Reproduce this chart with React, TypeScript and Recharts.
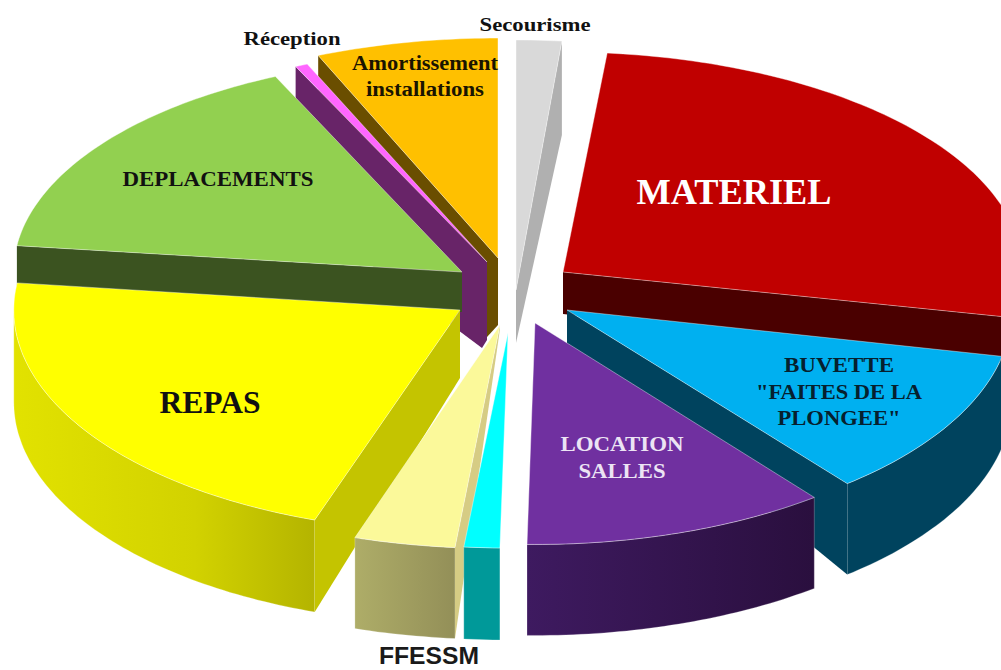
import React from "react";
import { PieChart, Pie } from "recharts";

// left half is listed back to front, going counter-clockwise from the top
const leftNames = ["Amortissement", "Reception", "Deplacements", "Repas", "FFESSM", "Premiers"];
const leftValues = [6.39, 0.44, 16.22, 21.67, 3.75, 1.25];
// right half, clockwise from the top
const rightNames = ["Secourisme", "Materiel", "Buvette", "Location"];
const rightValues = [1.53, 26.8, 11.1, 10.85];

const total = [...leftValues, ...rightValues].reduce((a, b) => a + b, 0);
const leftSpan = (360 * leftValues.reduce((a, b) => a + b, 0)) / total;
const rightSpan = 360 - leftSpan;

const leftData = leftNames.map((name, i) => ({ name, value: leftValues[i] }));
const rightData = rightNames.map((name, i) => ({ name, value: rightValues[i] }));

const TILT = 215 / 460;

// dx/dy: explosion of the slice, sx/sy: perspective scale, t1/t2: perspective nudge of the edges (deg)
const sliceLook: Record<string, any> = {
  Amortissement: { dx: -2, dy: -42, sx: 1, sy: 1.023, depth: 60, apexDepth: 67, tip: [-11, 12], top: "#ffc000", wall: "#6a4e00" },
  Reception: { dx: -13, dy: -38, sx: 1, sy: 1, depth: 142, apexDepth: 78, tip: [-5, 8], top: "#ff66ff", wall: "#682468" },
  Deplacements: { dx: -38, dy: -28, sx: 0.975, sy: 1, depth: 40, apexDepth: 40, top: "#92d050", wall: "#3b5320" },
  Repas: { dx: -40, dy: 10, sx: 0.97, sy: 1.033, depth: 92, apexDepth: 68, top: "#ffff00", wall: "#c4c400", arc: "url(#repasWall)" },
  FFESSM: { dx: 0, dy: 25, sx: 1.02, sy: 1.04, t2: -1, depth: 91, apexDepth: 4, top: "#fbf99a", wall: "#d6cc84", arc: "url(#ffessmWall)" },
  Premiers: { dx: 8, dy: 33, sx: 1, sy: 1, depth: 92, apexDepth: 0, top: "#00ffff", wall: "#009999", arc: "#009999" },
  Secourisme: { dx: 16, dy: -10, sx: 1.04, sy: 1.163, depth: 94, apexDepth: 53, top: "#d9d9d9", wall: "#b0b0b0" },
  Materiel: { dx: 63, dy: -28, sx: 1, sy: 1.023, depth: 46, apexDepth: 42, top: "#c00000", wall: "#4a0000", arc: "#4a0000" },
  Buvette: { dx: 67, dy: 10, sx: 0.967, sy: 1.04, t2: -1, depth: 91, apexDepth: 35, top: "#00b0f0", wall: "#00435e", arc: "#00435e" },
  Location: { dx: 35, dy: 23, sx: 0.985, sy: 1.03, depth: 91, apexDepth: 40, top: "#7030a0", wall: "#3a1a5c", arc: "url(#locationWall)" },
};

const serif = "'Liberation Serif', serif";
const sliceText: Record<string, any> = {
  Materiel: { lines: ["MATERIEL"], widths: [195], x: 734, y: 204, size: 35, color: "#ffffff" },
  Repas: { lines: ["REPAS"], widths: [101], x: 210, y: 413, size: 31, color: "#111111" },
  Deplacements: { lines: ["DEPLACEMENTS"], widths: [191], x: 218, y: 186, size: 20, color: "#111111" },
  Amortissement: { lines: ["Amortissement", "installations"], widths: [146, 118], x: 425, y: 70, size: 20, gap: 26, color: "#1a1400" },
  Reception: { lines: ["Réception"], widths: [97], x: 292, y: 45, size: 19.5, color: "#111111" },
  Secourisme: { lines: ["Secourisme"], widths: [111], x: 535, y: 31, size: 19.5, color: "#111111" },
  Buvette: { lines: ["BUVETTE", "\"FAITES DE LA", "PLONGEE\""], widths: [110, 166, 123], x: 839, y: 372, size: 21, gap: 26.5, color: "#06202e" },
  Location: { lines: ["LOCATION", "SALLES"], widths: [123, 87], x: 622, y: 451, size: 21, gap: 27, color: "#ece4f4" },
  FFESSM: { lines: ["FFESSM"], widths: [100], x: 429, y: 664, size: 23, color: "#1a1a1a", font: "'Liberation Sans', sans-serif" },
};

function SliceShape(props: any) {
  const { cx, cy, outerRadius, startAngle, endAngle } = props;
  const name = props.payload?.name ?? props.name;
  const s = sliceLook[name];
  const ox = cx + s.dx;
  const oy = cy + s.dy;
  const rx = outerRadius * s.sx;
  const ry = outerRadius * TILT * s.sy;

  // clockwise from the top
  const a1 = 90 - Math.max(startAngle, endAngle);
  const a2 = 90 - Math.min(startAngle, endAngle);
  const t1 = a1 + (s.t1 ?? 0);
  const t2 = a2 + (s.t2 ?? 0);
  const norm = (d: number) => ((d % 360) + 360) % 360;

  const rim = (t: number) => {
    const r = (t * Math.PI) / 180;
    return [ox + rx * Math.sin(r), oy - ry * Math.cos(r)];
  };
  const samples = (from: number, to: number) => {
    const pts = [];
    const n = Math.max(2, Math.ceil(Math.abs(to - from)));
    for (let i = 0; i <= n; i++) pts.push(rim(from + ((to - from) * i) / n));
    return pts;
  };
  const toPath = (pts: number[][]) => "M" + pts.map((p) => p[0].toFixed(1) + " " + p[1].toFixed(1)).join("L") + "Z";

  const radialWall = (t: number) => {
    const p = rim(t);
    const pts = [p, [ox, oy], [ox, oy + s.apexDepth]];
    if (s.tip) pts.push([ox + s.tip[0], oy + s.apexDepth + s.tip[1]]);
    pts.push([p[0], p[1] + s.depth]);
    return toPath(pts);
  };

  const n1 = norm(t1);
  const n2 = norm(t2);
  const showFirst = n1 > 184 && n1 < 356;
  const showSecond = n2 > 4 && n2 < 176;

  const from = Math.max(n1, 90);
  const to = Math.min(n1 + (t2 - t1), 270);
  const arcPts = to > from ? samples(from, to) : [];
  const arcWall = arcPts.length
    ? toPath([...arcPts, ...arcPts.slice().reverse().map((p) => [p[0], p[1] + s.depth])])
    : null;

  const edge = "rgba(255,255,255,0.4)";
  return (
    <g>
      {arcWall && <path d={arcWall} fill={s.arc ?? s.wall} stroke={edge} strokeWidth={0.6} />}
      {showFirst && <path d={radialWall(t1)} fill={s.wall} />}
      {showSecond && <path d={radialWall(t2)} fill={s.wall} />}
      <path d={toPath([[ox, oy], ...samples(t1, t2)])} fill={s.top} stroke={edge} strokeWidth={1} />
    </g>
  );
}

function SliceLabel(props: any) {
  const name = props.payload?.name ?? props.name;
  const t = sliceText[name];
  if (!t) return null;
  return (
    <g>
      {t.lines.map((line: string, i: number) => (
        <text
          key={line}
          x={t.x}
          y={t.y + i * (t.gap ?? 0)}
          textAnchor="middle"
          fontFamily={t.font ?? serif}
          fontWeight="bold"
          fontSize={t.size}
          fill={t.color}
          textLength={t.widths[i]}
          lengthAdjust="spacingAndGlyphs"
        >
          {line}
        </text>
      ))}
    </g>
  );
}

export default function App() {
  return (
    <div style={{ width: 1001, height: 670, background: "#ffffff" }}>
      <style>{"html,body{margin:0;padding:0;overflow:hidden}"}</style>
      <PieChart width={1001} height={670} margin={{ top: 0, right: 0, bottom: 0, left: 0 }}>
        <defs>
          <linearGradient id="repasWall" x1="0" y1="0" x2="1" y2="0">
            <stop offset="0" stopColor="#e2e200" />
            <stop offset="0.6" stopColor="#d2d200" />
            <stop offset="1" stopColor="#b4b400" />
          </linearGradient>
          <linearGradient id="ffessmWall" x1="0" y1="0" x2="1" y2="0">
            <stop offset="0" stopColor="#aead68" />
            <stop offset="1" stopColor="#938f58" />
          </linearGradient>
          <linearGradient id="locationWall" x1="0" y1="0" x2="1" y2="0">
            <stop offset="0" stopColor="#3e1a60" />
            <stop offset="1" stopColor="#2a0f3e" />
          </linearGradient>
        </defs>
        <Pie
          data={leftData}
          dataKey="value"
          nameKey="name"
          cx={500}
          cy={300}
          outerRadius={460}
          startAngle={90}
          endAngle={90 + leftSpan}
          shape={SliceShape}
          inactiveShape={SliceShape}
          label={SliceLabel}
          labelLine={false}
          isAnimationActive={false}
        />
        <Pie
          data={rightData}
          dataKey="value"
          nameKey="name"
          cx={500}
          cy={300}
          outerRadius={460}
          startAngle={90}
          endAngle={90 - rightSpan}
          shape={SliceShape}
          inactiveShape={SliceShape}
          label={SliceLabel}
          labelLine={false}
          isAnimationActive={false}
        />
      </PieChart>
    </div>
  );
}
